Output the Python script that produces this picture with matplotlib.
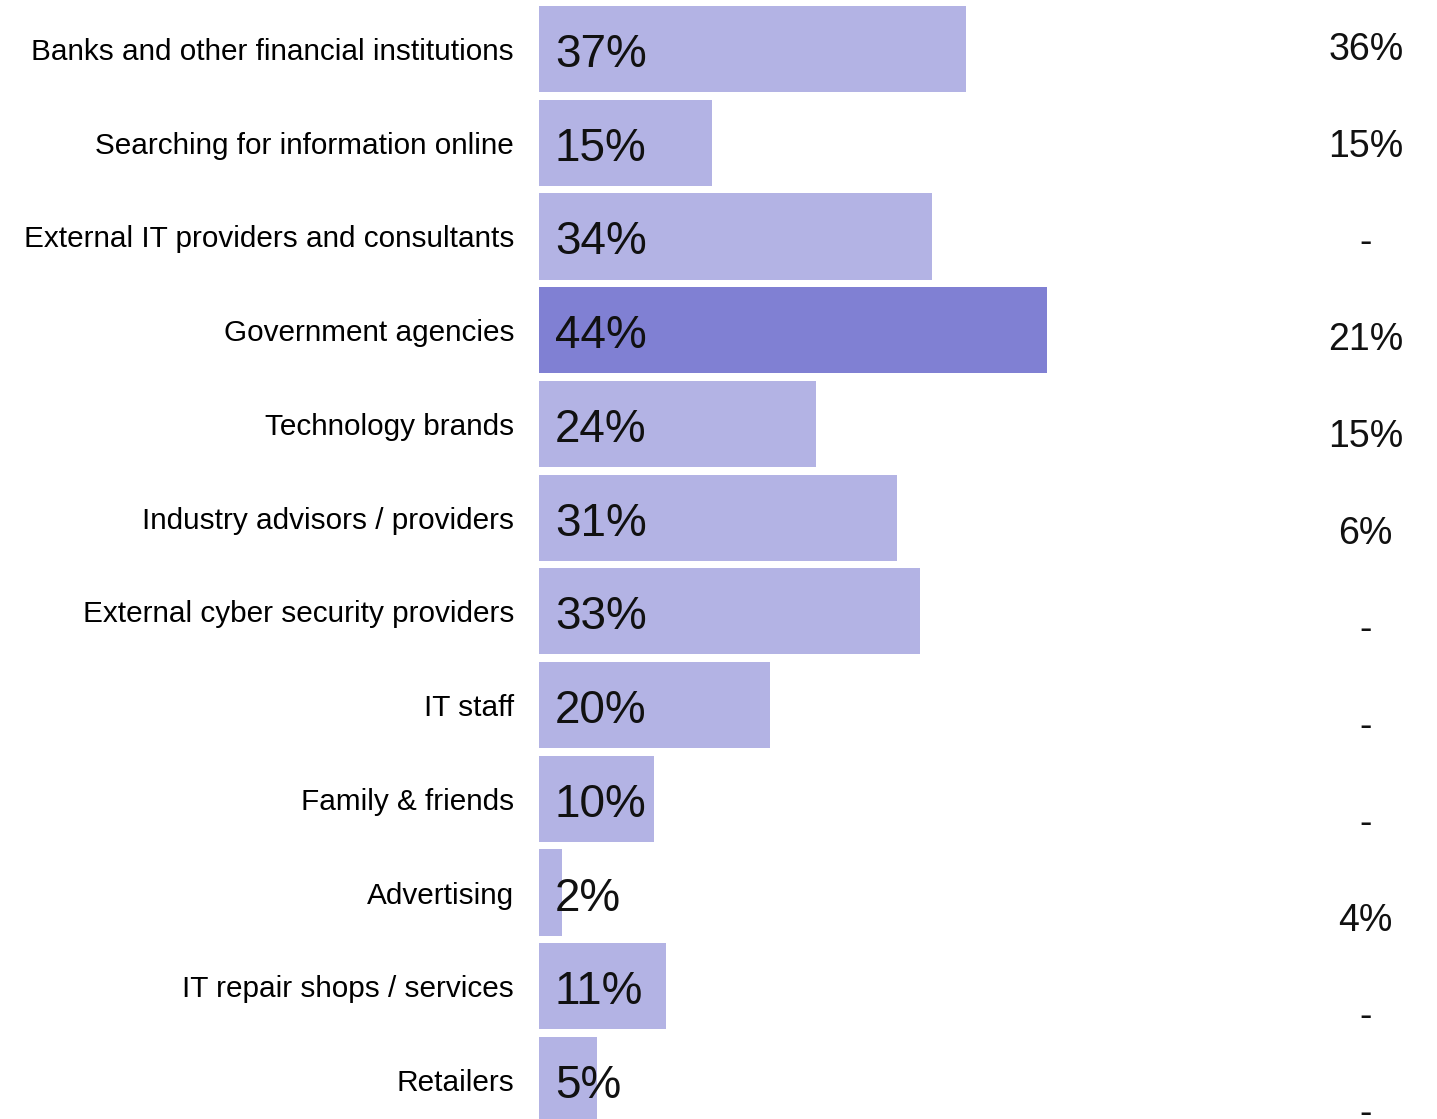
import matplotlib
matplotlib.use("Agg")
import matplotlib.pyplot as plt

categories = [
    "Banks and other financial institutions",
    "Searching for information online",
    "External IT providers and consultants",
    "Government agencies",
    "Technology brands",
    "Industry advisors / providers",
    "External cyber security providers",
    "IT staff",
    "Family & friends",
    "Advertising",
    "IT repair shops / services",
    "Retailers",
]
values = [37, 15, 34, 44, 24, 31, 33, 20, 10, 2, 11, 5]
right_labels = ["36%", "15%", "-", "21%", "15%", "6%", "-", "-", "-", "4%", "-", "-"]
highlight = "Government agencies"

LIGHT = "#B3B3E4"
DARK = "#8080D3"
FONT = "Liberation Sans"

W, H = 1437, 1119
fig = plt.figure(figsize=(W / 100, H / 100), dpi=100)

def fig_rect(x0, x1, ytop, ybot):
    return [x0 / W, 1 - ybot / H, (x1 - x0) / W, (ybot - ytop) / H]

# main bar axes
step = (1080 - 49) / 11
ax = fig.add_axes(fig_rect(539, 1437, 49 - step / 2, 1080 + step / 2))
n = len(categories)
ypos = list(range(n))
colors = [DARK if c == highlight else LIGHT for c in categories]
ax.barh(ypos, values, height=0.92, color=colors, edgecolor="none")
ax.set_ylim(n - 0.5, -0.5)
ax.set_xlim(0, (1437 - 539) / ((1047 - 539) / 44))
ax.set_yticks(ypos)
ax.set_yticklabels(categories, fontsize=21.4, family=FONT)
ax.tick_params(axis="y", length=0, pad=18)
ax.set_xticks([])
for s in ax.spines.values():
    s.set_visible(False)
for y, v in zip(ypos, values):
    ax.annotate(f"{v}%", (0, y), xytext=(16, -18), textcoords="offset pixels",
                va="baseline", ha="left", fontsize=33, family=FONT, color="#111111")

# right column axes
rstep = (1112 - 48) / 11
ax2 = fig.add_axes(fig_rect(1300, 1437, 48 - rstep / 2, 1112 + rstep / 2))
ax2.set_ylim(n - 0.5, -0.5)
ax2.set_xlim(0, 1)
ax2.axis("off")
for y, t in zip(ypos, right_labels):
    ax2.annotate(t, (0.48, y), xytext=(0, -12), textcoords="offset pixels",
                 va="baseline", ha="center", fontsize=27, family=FONT, color="#111111")

fig.savefig("out.png", dpi=100)
